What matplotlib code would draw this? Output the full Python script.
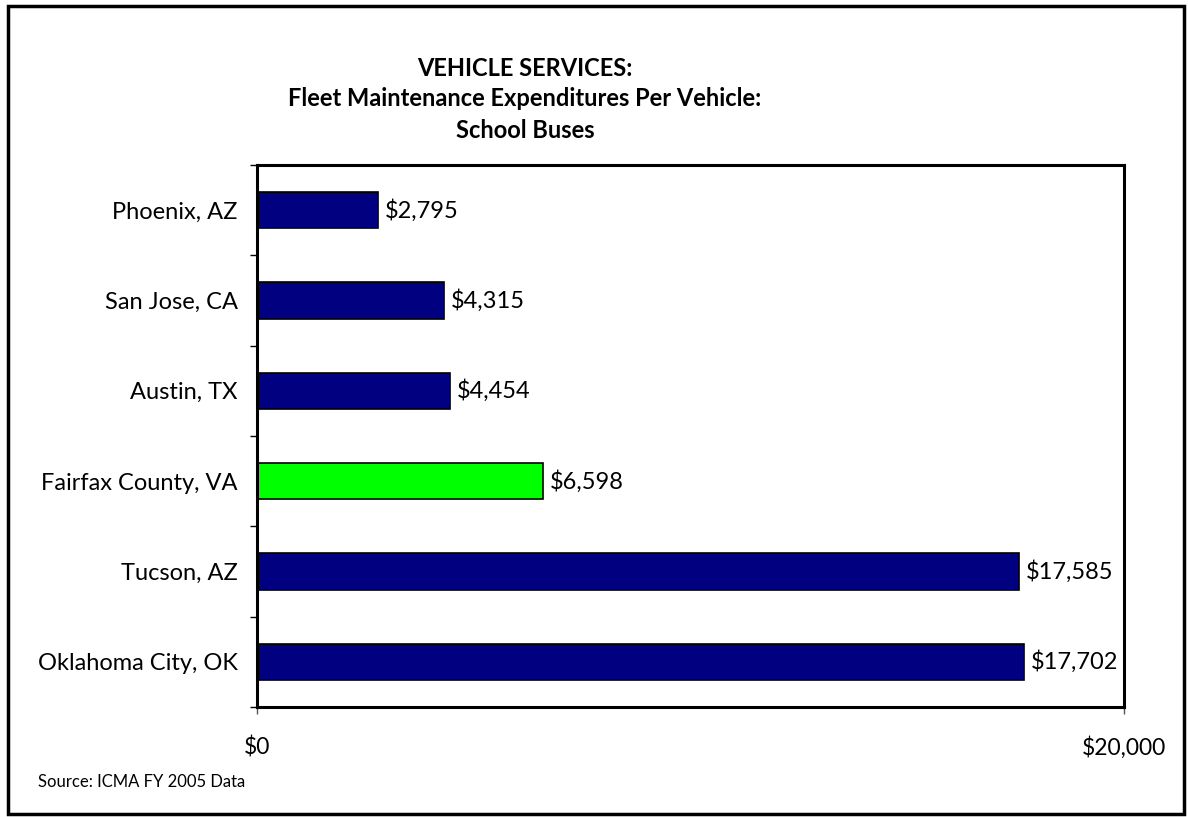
import matplotlib
matplotlib.use("Agg")
import matplotlib.pyplot as plt
from matplotlib.patches import Rectangle
import numpy as np

categories = ["Phoenix, AZ", "San Jose, CA", "Austin, TX", "Fairfax County, VA",
              "Tucson, AZ", "Oklahoma City, OK"]
values = [2795, 4315, 4454, 6598, 17585, 17702]
value_labels = ["$2,795", "$4,315", "$4,454", "$6,598", "$17,585", "$17,702"]
highlight = "Fairfax County, VA"
xticks = [0, 20000]
xtick_labels = ["$0", "$20,000"]
title_lines = ["VEHICLE SERVICES:", "Fleet Maintenance Expenditures Per Vehicle:", "School Buses"]
source = "Source: ICMA FY 2005 Data"

plt.rcParams['font.family'] = ['Lato', 'DejaVu Sans']

fig = plt.figure(figsize=(11.88, 8.17), dpi=100)
ax = fig.add_axes([257/1188, 1-707/817, (1124-257)/1188, (707-165)/817])

y = np.arange(len(categories))
colors = ["#00FF00" if c == highlight else "#000080" for c in categories]
ax.barh(y, values, height=0.4, color=colors, edgecolor="black", linewidth=1.2)
ax.set_ylim(len(categories)-0.5, -0.5)
ax.set_xlim(0, 20000)

for yi, v, lab in zip(y, values, value_labels):
    ax.annotate(lab, (v, yi), xytext=(5, 0), textcoords="offset points",
                va="center", ha="left", fontsize=17)

ax.set_yticks(y)
ax.set_yticklabels(categories, fontsize=17)
ax.tick_params(axis="y", which="major", length=0, pad=14)
ax.set_yticks(np.arange(-0.5, len(categories), 1), minor=True)
ax.tick_params(axis="y", which="minor", length=5, width=1, color="black", direction="out")

ax.set_xticks(xticks)
ax.set_xticklabels(xtick_labels, fontsize=16.5)
ax.tick_params(axis="x", length=5, width=1, color="#555555", pad=16)

for s in ax.spines.values():
    s.set_linewidth(2.2)
    s.set_color("black")

for i, line in enumerate(title_lines):
    fig.text(525/1188, 1 - (68 + 31*i)/817, line, ha="center", va="center",
             fontsize=17, fontweight="bold")

fig.text(38/1188, 1 - 782/817, source, ha="left", va="center", fontsize=12)

fig.patches.append(Rectangle((8/1188, 1-814/817), (1184-8)/1188, (814-6)/817,
                             transform=fig.transFigure, fill=False,
                             edgecolor="black", linewidth=2.5))

fig.savefig("out.png", dpi=100)
